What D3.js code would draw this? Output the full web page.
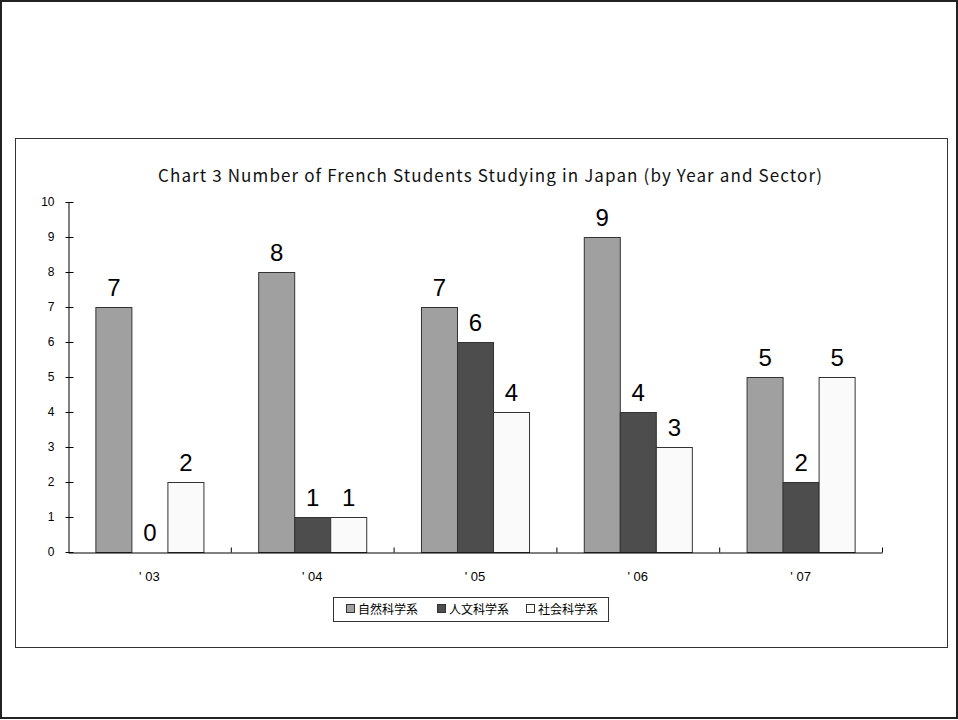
<!DOCTYPE html>
<html>
<head>
<meta charset="utf-8">
<script src="https://cdn.jsdelivr.net/npm/d3@7"></script>
<style>
  html, body { margin: 0; padding: 0; background: #fff; }
  svg { display: block; }
</style>
</head>
<body>
<svg id="chart" width="958" height="720"></svg>
<script>
// Years and sectors
const years = ["'03", "'04", "'05", "'06", "'07"];
const yearLabels = ["' 03", "' 04", "' 05", "' 06", "' 07"];
const sectors = ["自然科学系", "人文科学系", "社会科学系"];

// Number of students per sector, one entry per year
const naturalSci = [7, 8, 7, 9, 5];
const humanities = [0, 1, 6, 4, 2];
const socialSci  = [2, 1, 4, 3, 5];

const yTicks = [0, 1, 2, 3, 4, 5, 6, 7, 8, 9, 10];
const titleText = "Chart 3 Number of French Students Studying in Japan (by Year and Sector)";

const seriesValues = [naturalSci, humanities, socialSci];
const colors = ["#a0a0a0", "#4d4d4d", "#fafafa"];

const svg = d3.select("#chart");
const latin = "'Liberation Sans', Arial, sans-serif";
const cjk = "'Noto Sans CJK JP', 'Noto Sans', sans-serif";

// Page frame
svg.append("rect")
  .attr("x", 1).attr("y", 1).attr("width", 956).attr("height", 717)
  .attr("fill", "#fff").attr("stroke", "#222").attr("stroke-width", 2);

// Chart area frame
svg.append("rect")
  .attr("x", 15.5).attr("y", 138.5).attr("width", 932).attr("height", 509)
  .attr("fill", "#fff").attr("stroke", "#333").attr("stroke-width", 1);

// Title
svg.append("text")
  .attr("x", 490).attr("y", 182)
  .attr("text-anchor", "middle")
  .attr("font-family", cjk)
  .attr("font-size", 17)
  .attr("textLength", 664)
  .attr("lengthAdjust", "spacing")
  .attr("fill", "#111")
  .text(titleText);

const plot = { left: 68, right: 882, top: 202, bottom: 552 };

const x = d3.scaleBand().domain(years).range([plot.left, plot.right]).paddingInner(0).paddingOuter(0);
const xSub = d3.scaleBand().domain(d3.range(sectors.length)).range([0, x.bandwidth()]).paddingInner(0).paddingOuter(0.76);
const y = d3.scaleLinear().domain([0, 10]).range([plot.bottom, plot.top]);

// Bars
const rows = years.map((yr, i) => ({ year: yr, values: seriesValues.map(s => s[i]) }));
const groups = svg.append("g").selectAll("g").data(rows).join("g")
  .attr("transform", d => `translate(${x(d.year)},0)`);

groups.selectAll("rect").data(d => d.values.map((v, k) => ({ v, k }))).join("rect")
  .attr("x", d => xSub(d.k) + 0.5)
  .attr("y", d => y(d.v) + 0.5)
  .attr("width", xSub.bandwidth())
  .attr("height", d => y(0) - y(d.v))
  .attr("fill", d => colors[d.k])
  .attr("stroke", "#333")
  .attr("stroke-width", 1)
  .attr("display", d => d.v === 0 ? "none" : null);

// Value labels
groups.selectAll("text").data(d => d.values.map((v, k) => ({ v, k }))).join("text")
  .attr("x", d => xSub(d.k) + xSub.bandwidth() / 2 + 0.5)
  .attr("y", d => y(d.v) - 11)
  .attr("text-anchor", "middle")
  .attr("font-family", latin)
  .attr("font-size", 24)
  .attr("fill", "#000")
  .text(d => d.v);

// Y axis
const yAxis = svg.append("g").attr("transform", `translate(${plot.left + 0.5},0)`)
  .call(d3.axisLeft(y).tickValues(yTicks).tickSize(0).tickPadding(14).tickFormat(d3.format("d")));
yAxis.select(".domain").attr("stroke", "#000");
yAxis.selectAll(".tick line").attr("x1", -3).attr("x2", 5).attr("stroke", "#000");
yAxis.selectAll(".tick text").attr("font-family", latin).attr("font-size", 12).attr("fill", "#000");

// X axis: category dividers pointing up
const xAxis = svg.append("g").attr("transform", `translate(0,${plot.bottom + 0.5})`)
  .call(d3.axisBottom(x).tickSize(0).tickPadding(19).tickFormat((d, i) => yearLabels[i]));
xAxis.select(".domain").attr("stroke", "#000");
xAxis.selectAll(".tick text").attr("font-family", latin).attr("font-size", 13).attr("fill", "#000");
xAxis.selectAll(".divider").data(years.slice(1).map(d => x(d)).concat([plot.right]))
  .join("line").attr("class", "divider")
  .attr("x1", d => d + 0.5).attr("x2", d => d + 0.5)
  .attr("y1", 0).attr("y2", -5).attr("stroke", "#000");

// Legend
const legend = svg.append("g");
legend.append("rect")
  .attr("x", 333.5).attr("y", 597.5).attr("width", 275).attr("height", 24)
  .attr("fill", "#fff").attr("stroke", "#333");
const legendX = [346, 437, 526];
const items = legend.selectAll("g.item").data(sectors).join("g").attr("class", "item")
  .attr("transform", (d, i) => `translate(${legendX[i]},609)`);
items.append("rect")
  .attr("x", 0.5).attr("y", -4.5).attr("width", 8).attr("height", 8)
  .attr("fill", (d, i) => colors[i]).attr("stroke", "#333");
items.append("text")
  .attr("x", 12).attr("y", 4.5)
  .attr("font-family", cjk).attr("font-size", 12).attr("fill", "#000")
  .text(d => d);
</script>
</body>
</html>
